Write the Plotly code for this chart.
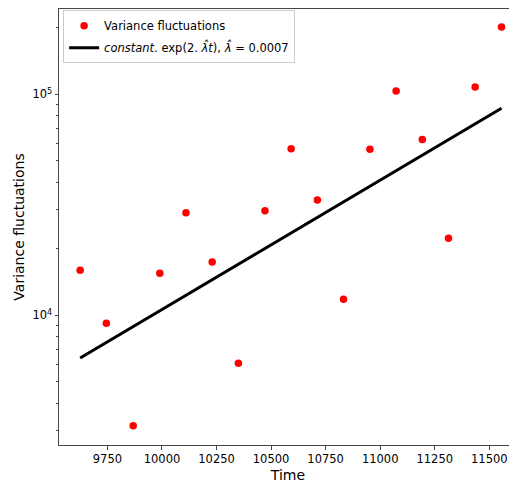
import plotly.graph_objects as go

# ---- data ----
time = [9625, 9745, 9868, 9990, 10110, 10230, 10350, 10472, 10592,
        10712, 10832, 10953, 11073, 11193, 11313, 11435, 11556]
variance = [15980, 9200, 3167, 15490, 29100, 17420, 6064, 29720, 56750,
            33270, 11810, 56350, 103500, 62400, 22290, 107900, 201600]
fit_time = [9625, 11556]
fit_variance = [6410, 86440]

x_ticks = [9750, 10000, 10250, 10500, 10750, 11000, 11250, 11500]
x_tick_text = [str(v) for v in x_ticks]
y_ticks = [1e4, 1e5]
y_tick_text = ["10<sup>4</sup>", "10<sup>5</sup>"]
y_minor = [m * d for d in (1e3, 1e4, 1e5) for m in range(2, 10)]

font_family = "DejaVu Sans, Liberation Sans, sans-serif"

fig = go.Figure()
fig.add_trace(go.Scatter(
    x=time, y=variance, mode="markers", name="Variance fluctuations",
    legendgroup="a",
    marker=dict(color="#ff0000", size=7.5, line=dict(width=0)),
))
fig.add_trace(go.Scatter(
    x=fit_time, y=fit_variance, mode="lines", legendgroup="b",
    name="<i>constant</i>. exp(2. <i>λ̂t</i>), <i>λ̂</i> = 0.0007",
    line=dict(color="black", width=3),
))

# the page body adds an 8px offset, so the figure is 8px smaller
fig.update_layout(
    width=509, height=477,
    margin=dict(l=51, r=0, t=1, b=40),
    paper_bgcolor="white", plot_bgcolor="white",
    font=dict(family=font_family, color="black", size=12),
    showlegend=True,
    legend=dict(
        x=0.009, y=0.997, xanchor="left", yanchor="top",
        bgcolor="rgba(255,255,255,0.8)", bordercolor="#cccccc", borderwidth=1,
        font=dict(size=11.5), tracegroupgap=3, itemwidth=30,
    ),
    xaxis=dict(
        range=[9528, 11627], tickmode="array", tickvals=x_ticks,
        ticktext=x_tick_text, automargin=False,
        showgrid=False, zeroline=False,
        showline=True, linecolor="#444444", linewidth=1, mirror=True,
        ticks="outside", ticklen=3.5, tickcolor="#444444",
        tickfont=dict(size=11.5),
        title=dict(text="Time", font=dict(size=14), standoff=4),
    ),
    yaxis=dict(
        type="log", range=[3.4131, 5.386], automargin=False,
        tickmode="array", tickvals=y_ticks, ticktext=y_tick_text,
        showgrid=False, zeroline=False,
        showline=True, linecolor="#444444", linewidth=1,
        ticks="outside", ticklen=3.5, tickcolor="#444444",
        tickfont=dict(size=11.5),
        minor=dict(tickmode="array", tickvals=y_minor, ticks="outside",
                   ticklen=2, tickcolor="#444444", showgrid=False),
        title=dict(text="Variance fluctuations", font=dict(size=14), standoff=4),
    ),
)

fig.write_html("out.html")
